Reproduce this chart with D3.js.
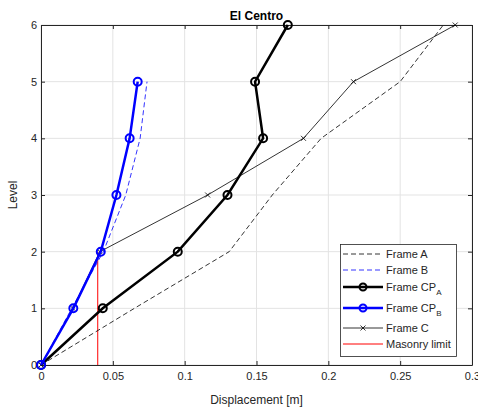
<!DOCTYPE html>
<html>
<head>
<meta charset="utf-8">
<script src="https://cdn.jsdelivr.net/npm/d3@7"></script>
<style>
body { margin: 0; background: #fff; }
text { font-family: "Liberation Sans", Arial, sans-serif; }
</style>
</head>
<body>
<div id="chart"></div>
<script>
var levels = [0, 1, 2, 3, 4, 5, 6];
var frameA = [0, 0.065, 0.131, 0.161, 0.195, 0.25, 0.28];
var frameB = [0, 0.0214, 0.0434, 0.059, 0.069, 0.0738];
var frameCPA = [0, 0.043, 0.0952, 0.1298, 0.1546, 0.149, 0.1718];
var frameCPB = [0, 0.0225, 0.0416, 0.0525, 0.0617, 0.0673];
var frameC = [0, 0.0222, 0.041, 0.116, 0.1827, 0.2175, 0.2883];
var masonryX = 0.0395;
var masonryLevels = [0, 2];
var xTicks = [0, 0.05, 0.1, 0.15, 0.2, 0.25, 0.3];
var yTicks = [0, 1, 2, 3, 4, 5, 6];

var margin = { top: 25, right: 6, bottom: 49, left: 41 },
    width = 478 - margin.left - margin.right,
    height = 414 - margin.top - margin.bottom;

var svg = d3.select("#chart").append("svg")
    .attr("width", 478)
    .attr("height", 414);

var g = svg.append("g")
    .attr("transform", "translate(" + margin.left + "," + margin.top + ")");

var x = d3.scaleLinear().domain([0, 0.3]).range([0, width]);
var y = d3.scaleLinear().domain([0, 6]).range([height, 0]);

// grid
g.append("g").selectAll("line").data(xTicks).enter().append("line")
    .attr("x1", function (d) { return x(d); }).attr("x2", function (d) { return x(d); })
    .attr("y1", 0).attr("y2", height)
    .attr("stroke", "#e3e3e3").attr("stroke-width", 1);
g.append("g").selectAll("line").data(yTicks).enter().append("line")
    .attr("y1", function (d) { return y(d); }).attr("y2", function (d) { return y(d); })
    .attr("x1", 0).attr("x2", width)
    .attr("stroke", "#e3e3e3").attr("stroke-width", 1);

function fmt(d) { return String(d); }

// axes, ticks inside
var axisColor = "#262626";
var xAxis = g.append("g").attr("transform", "translate(0," + height + ")")
    .call(d3.axisBottom(x).tickValues(xTicks).tickSizeInner(-4).tickSizeOuter(0).tickFormat(fmt));
var xTop = g.append("g")
    .call(d3.axisTop(x).tickValues(xTicks).tickSizeInner(-4).tickSizeOuter(0).tickFormat(""));
var yAxis = g.append("g")
    .call(d3.axisLeft(y).tickValues(yTicks).tickSizeInner(-4).tickSizeOuter(0).tickFormat(fmt));
var yRight = g.append("g").attr("transform", "translate(" + width + ",0)")
    .call(d3.axisRight(y).tickValues(yTicks).tickSizeInner(-4).tickSizeOuter(0).tickFormat(""));

[xAxis, xTop, yAxis, yRight].forEach(function (a) {
    a.select(".domain").attr("stroke", axisColor);
    a.selectAll(".tick line").attr("stroke", axisColor);
    a.selectAll(".tick text").attr("fill", axisColor).style("font-size", "11px");
});
xAxis.selectAll(".tick text").attr("dy", "0.71em").attr("y", 7);
yAxis.selectAll(".tick text").attr("x", -4);

var line = d3.line()
    .x(function (d) { return x(d.x); })
    .y(function (d) { return y(d.y); });

function pts(arr) {
    return arr.map(function (v, i) { return { x: v, y: levels[i] }; });
}

// masonry limit
g.append("path")
    .datum(masonryLevels.map(function (l) { return { x: masonryX, y: l }; }))
    .attr("d", line).attr("fill", "none")
    .attr("stroke", "#ff0000").attr("stroke-width", 1);

// Frame A
g.append("path").datum(pts(frameA)).attr("d", line)
    .attr("fill", "none").attr("stroke", "#000").attr("stroke-width", 0.8)
    .attr("stroke-dasharray", "5,3");

// Frame B
g.append("path").datum(pts(frameB)).attr("d", line)
    .attr("fill", "none").attr("stroke", "#0000ff").attr("stroke-width", 0.8)
    .attr("stroke-dasharray", "5,3");

// Frame C
g.append("path").datum(pts(frameC)).attr("d", line)
    .attr("fill", "none").attr("stroke", "#000").attr("stroke-width", 0.8);
g.append("g").selectAll("path").data(pts(frameC)).enter().append("path")
    .attr("transform", function (d) { return "translate(" + x(d.x) + "," + y(d.y) + ")"; })
    .attr("d", "M-2.5,-2.5L2.5,2.5M-2.5,2.5L2.5,-2.5")
    .attr("stroke", "#000").attr("stroke-width", 0.8);

// Frame CP_A
g.append("path").datum(pts(frameCPA)).attr("d", line)
    .attr("fill", "none").attr("stroke", "#000").attr("stroke-width", 2.5);
g.append("g").selectAll("circle").data(pts(frameCPA)).enter().append("circle")
    .attr("cx", function (d) { return x(d.x); }).attr("cy", function (d) { return y(d.y); })
    .attr("r", 4).attr("fill", "none").attr("stroke", "#000").attr("stroke-width", 2);

// Frame CP_B
g.append("path").datum(pts(frameCPB)).attr("d", line)
    .attr("fill", "none").attr("stroke", "#0000ff").attr("stroke-width", 2.5);
g.append("g").selectAll("circle").data(pts(frameCPB)).enter().append("circle")
    .attr("cx", function (d) { return x(d.x); }).attr("cy", function (d) { return y(d.y); })
    .attr("r", 4).attr("fill", "none").attr("stroke", "#0000ff").attr("stroke-width", 2);

// title and labels
svg.append("text").attr("x", margin.left + width / 2).attr("y", 20)
    .attr("text-anchor", "middle").style("font-size", "12px").style("font-weight", "bold")
    .attr("fill", "#000").text("El Centro");
svg.append("text").attr("x", margin.left + width / 2).attr("y", 404)
    .attr("text-anchor", "middle").style("font-size", "12px").attr("fill", axisColor)
    .text("Displacement [m]");
svg.append("text").attr("transform", "translate(17," + (margin.top + height / 2) + ") rotate(-90)")
    .attr("text-anchor", "middle").style("font-size", "12px").attr("fill", axisColor)
    .text("Level");

// legend
var legendItems = [
    { name: "Frame A", sub: "", color: "#000", width: 0.8, dash: "5,3", marker: "" , y: 254},
    { name: "Frame B", sub: "", color: "#0000ff", width: 0.8, dash: "5,3", marker: "", y: 270 },
    { name: "Frame CP", sub: "A", color: "#000", width: 2.5, dash: null, marker: "o", y: 287 },
    { name: "Frame CP", sub: "B", color: "#0000ff", width: 2.5, dash: null, marker: "o", y: 308 },
    { name: "Frame C", sub: "", color: "#000", width: 0.8, dash: null, marker: "x", y: 328 },
    { name: "Masonry limit", sub: "", color: "#ff0000", width: 1, dash: null, marker: "", y: 344 }
];

svg.append("rect").attr("x", 340.5).attr("y", 244.5).attr("width", 116).attr("height", 112)
    .attr("fill", "#fff").attr("stroke", axisColor).attr("stroke-width", 0.8);

var lg = svg.selectAll(".legend").data(legendItems).enter().append("g")
    .attr("class", "legend")
    .attr("transform", function (d) { return "translate(0," + d.y + ")"; });

lg.append("line").attr("x1", 343).attr("x2", 383).attr("y1", 0).attr("y2", 0)
    .attr("stroke", function (d) { return d.color; })
    .attr("stroke-width", function (d) { return d.width; })
    .attr("stroke-dasharray", function (d) { return d.dash; });
lg.filter(function (d) { return d.marker === "o"; }).append("circle")
    .attr("cx", 363).attr("cy", 0).attr("r", 3.5).attr("fill", "none")
    .attr("stroke", function (d) { return d.color; }).attr("stroke-width", 2);
lg.filter(function (d) { return d.marker === "x"; }).append("path")
    .attr("d", "M360.5,-2.5L365.5,2.5M360.5,2.5L365.5,-2.5")
    .attr("stroke", "#000").attr("stroke-width", 0.8);

var lt = lg.append("text").attr("x", 386).attr("y", 4)
    .style("font-size", "11px").attr("fill", axisColor);
lt.append("tspan").text(function (d) { return d.name; });
lt.append("tspan").attr("dy", 4).style("font-size", "8px")
    .text(function (d) { return d.sub; });
</script>
</body>
</html>
